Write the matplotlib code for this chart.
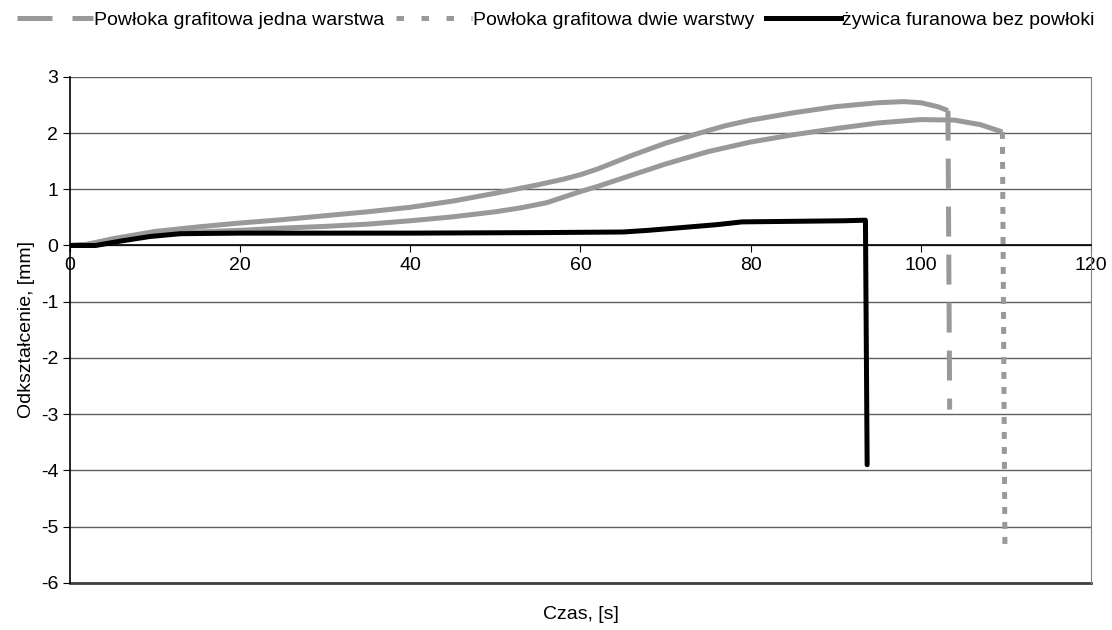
import matplotlib.pyplot as plt
from matplotlib.lines import Line2D

plt.rcParams['font.family'] = ['Liberation Sans', 'DejaVu Sans']
plt.rcParams['axes.unicode_minus'] = False

# Powłoka grafitowa jedna warstwa
czas_1 = [0, 2, 5, 10, 15, 20, 25, 30, 35, 40, 45, 50, 55, 58, 60, 62, 64, 66,
          70, 74, 77, 80, 85, 90, 95, 98, 100, 102, 103.2, 103.4]
odk_1 = [0, 0.02, 0.12, 0.25, 0.33, 0.4, 0.46, 0.53, 0.6, 0.68, 0.79, 0.93,
         1.08, 1.18, 1.26, 1.36, 1.48, 1.6, 1.82, 2.0, 2.13, 2.23, 2.36, 2.47,
         2.54, 2.56, 2.54, 2.47, 2.4, -2.92]

# Powłoka grafitowa dwie warstwy
czas_2 = [0, 2, 5, 10, 15, 20, 25, 30, 35, 40, 45, 50, 53, 56, 58, 60, 62, 65,
          70, 75, 80, 85, 90, 95, 100, 104, 107, 109.6, 109.9]
odk_2 = [0, 0.02, 0.1, 0.2, 0.24, 0.27, 0.31, 0.34, 0.38, 0.44, 0.51, 0.6,
         0.67, 0.76, 0.86, 0.96, 1.05, 1.2, 1.45, 1.67, 1.84, 1.97, 2.08, 2.18,
         2.24, 2.23, 2.15, 2.02, -5.45]

# żywica furanowa bez powłoki
czas_3 = [0, 3, 6, 9.4, 13, 20, 40, 56, 65, 68, 72, 76, 79, 85, 91, 93.5, 93.7]
odk_3 = [0, 0, 0.08, 0.16, 0.21, 0.22, 0.22, 0.23, 0.24, 0.27, 0.32, 0.37,
         0.42, 0.43, 0.44, 0.45, -3.9]

etykiety = ['Powłoka grafitowa jedna warstwa', 'Powłoka grafitowa dwie warstwy',
            'żywica furanowa bez powłoki']

szary = '#999999'
lw = 3.6
fs = 14

fig = plt.figure(figsize=(11.12, 6.3), dpi=100)
ax = fig.add_axes([0.063, 0.075, 0.918, 0.803])

# krzywe (gęste punkty w Excelu wyglądają jak linia ciągła), spadek przerywany
ax.plot(czas_1[:-1], odk_1[:-1], color=szary, lw=lw, solid_capstyle='butt')
ax.plot(czas_1[-2:], odk_1[-2:], color=szary, lw=lw, dashes=(6, 3.6))
ax.plot(czas_2[:-1], odk_2[:-1], color=szary, lw=lw, solid_capstyle='butt')
ax.plot(czas_2[-2:], odk_2[-2:], color=szary, lw=lw, dashes=(1.4, 1.6))
ax.plot(czas_3, odk_3, color='black', lw=lw, solid_joinstyle='round',
        solid_capstyle='round')

ax.set_xlim(0, 120)
ax.set_ylim(-6, 3)
ax.set_xticks(range(0, 121, 20))
ax.set_yticks(range(-6, 4))
ax.yaxis.grid(True, color='#606060', lw=1)
ax.set_axisbelow(True)

ax.spines['bottom'].set_position(('data', 0))
ax.spines['bottom'].set_linewidth(1.2)
ax.spines['left'].set_linewidth(1.2)
ax.spines['right'].set_color('#808080')
ax.spines['top'].set_visible(False)
ax.axhline(-6, color='#404040', lw=2, clip_on=False)
ax.tick_params(axis='both', labelsize=fs, length=5, direction='out')

ax.set_xlabel('Czas, [s]', fontsize=fs, labelpad=0)
ax.xaxis.set_label_coords(0.5, -0.045)
ax.set_ylabel('Odkształcenie, [mm]', fontsize=fs, labelpad=4)

uchwyty = [Line2D([], [], color=szary, lw=lw, dashes=(7, 4)),
           Line2D([], [], color=szary, lw=lw, dashes=(1.5, 3.5)),
           Line2D([], [], color='black', lw=lw)]
fig.legend(uchwyty, etykiety, loc='upper center', bbox_to_anchor=(0.5, 1.01),
           ncol=3, frameon=False, fontsize=14, handlelength=3.9,
           handletextpad=0.05, columnspacing=0.6)

fig.savefig('out.png', dpi=100)
